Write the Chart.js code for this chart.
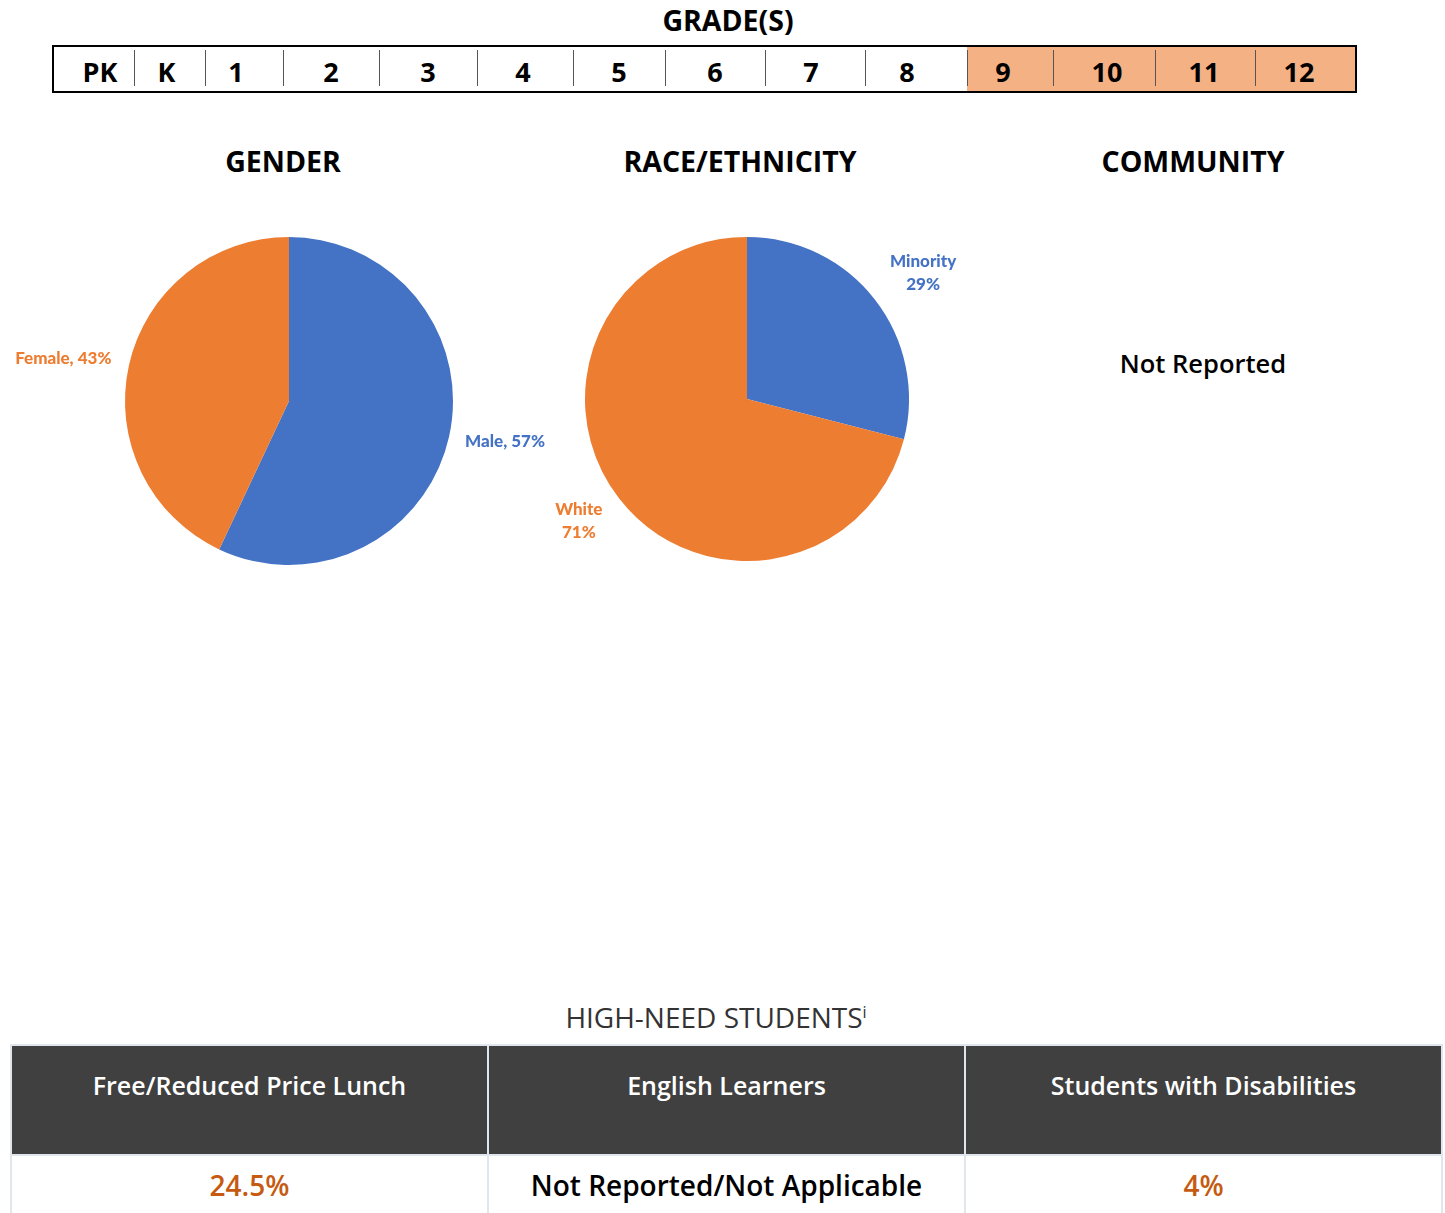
<!DOCTYPE html>
<html lang="en">
<head>
<meta charset="UTF-8">
<title>School Profile</title>
<script src="https://cdn.jsdelivr.net/npm/chart.js"></script>
<style>
    body {
        margin: 0;
        width: 1445px;
        height: 1213px;
        position: relative;
        overflow: hidden;
        background: #fff;
        font-family: "Open Sans", sans-serif;
        color: #000;
    }
    .abs { position: absolute; }
    .title {
        font-weight: 700;
        font-size: 28.5px;
        text-align: center;
    }
    #gradeBar {
        left: 52px; top: 45px; width: 1301px; height: 44px;
        border: 2px solid #000;
        display: flex;
    }
    #gradeBar div {
        position: relative;
        font-weight: 700;
        font-size: 27px;
        text-align: center;
        line-height: 49px;
        height: 44px;
        overflow: hidden;
        box-sizing: border-box;
    }
    #gradeBar div.sep::before {
        content: '';
        position: absolute;
        left: 0; top: 3px; height: 36px;
        border-left: 1.5px solid #555;
    }
    #gradeBar div.hl { background: #F4B183; }
    #needTable {
        left: 10px; top: 1044px;
        border-collapse: collapse;
        table-layout: fixed;
        width: 1433px;
    }
    #needTable td {
        border: 2px solid #e1e5ec;
        text-align: center;
        width: 33.3%;
        font-weight: 600;
    }
    #needTable tr.head td {
        background: #404040;
        color: #fff;
        font-size: 25px;
        height: 110px;
        vertical-align: top;
        padding-top: 22px;
        box-sizing: border-box;
    }
    #needTable tr.vals td {
        font-size: 28px;
        height: 70px;
        vertical-align: top;
        padding-top: 10px;
    }
</style>
</head>
<body>

<div class="abs title" style="left:528px; top:1px; width:400px;">GRADE(S)</div>
<div id="gradeBar" class="abs"></div>

<div class="abs title" style="left:83px; top:142px; width:400px;">GENDER</div>
<div class="abs title" style="left:540px; top:142px; width:400px;">RACE/ETHNICITY</div>
<div class="abs title" style="left:993px; top:142px; width:400px;">COMMUNITY</div>
<div class="abs" style="left:1003px; top:346px; width:400px; text-align:center; font-size:25.5px; font-weight:600;">Not Reported</div>

<canvas id="genderChart" class="abs" style="left:4px; top:221px;" width="570" height="360"></canvas>
<canvas id="raceChart" class="abs" style="left:477px; top:219px;" width="540" height="360"></canvas>

<div class="abs" style="left:416px; top:998px; width:600px; text-align:center; font-size:28px; color:#333;">HIGH-NEED STUDENTS<sup style="font-size:16px;">i</sup></div>
<table id="needTable" class="abs">
    <tr class="head"></tr>
    <tr class="vals"></tr>
</table>

<script>
// grade bar
var grades = ['PK', 'K', '1', '2', '3', '4', '5', '6', '7', '8', '9', '10', '11', '12'];
var gradeWidths = [80, 71, 78, 96, 98, 96, 92, 100, 100, 102, 86, 102, 100, 100];
var gradeNudge = [12, -6, -16, 0, 0, -4, 0, 0, -8, -18, -14, 6, -2, -12];
var servedGrades = ['9', '10', '11', '12'];

// pies
var genderLabels = ['Male', 'Female'];
var genderValues = [57, 43];
var raceLabels = ['Minority', 'White'];
var raceValues = [29, 71];
var pieColors = ['#4472C4', '#ED7D31'];

// high-need table
var needHeaders = ['Free/Reduced Price Lunch', 'English Learners', 'Students with Disabilities'];
var needValues = ['24.5%', 'Not Reported/Not Applicable', '4%'];
var needColors = ['#C55A11', '#000', '#C55A11'];

var bar = document.getElementById('gradeBar');
grades.forEach(function (g, i) {
    var d = document.createElement('div');
    d.textContent = g;
    d.style.width = gradeWidths[i] + 'px';
    // shift the number inside its cell like the original form
    if (gradeNudge[i] > 0) d.style.paddingLeft = gradeNudge[i] + 'px';
    else d.style.paddingRight = (-gradeNudge[i]) + 'px';
    if (i > 0) d.className = 'sep';
    if (servedGrades.indexOf(g) >= 0) d.className += ' hl';
    bar.appendChild(d);
});

var rows = document.querySelectorAll('#needTable tr');
needHeaders.forEach(function (h, i) {
    var td = document.createElement('td');
    td.textContent = h;
    rows[0].appendChild(td);
    var vd = document.createElement('td');
    vd.textContent = needValues[i];
    vd.style.color = needColors[i];
    rows[1].appendChild(vd);
});

// draw "Label, xx%" next to each slice
var sliceLabels = {
    id: 'sliceLabels',
    afterDatasetsDraw: function (chart, args, opts) {
        var ctx = chart.ctx;
        var meta = chart.getDatasetMeta(0);
        ctx.save();
        ctx.font = '900 17px Lato';
        ctx.textAlign = 'center';
        ctx.textBaseline = 'middle';
        meta.data.forEach(function (arc, i) {
            var mid = (arc.startAngle + arc.endAngle) / 2 + opts.turn;
            var r = arc.outerRadius * opts.dist[i];
            var x = arc.x + Math.cos(mid) * r;
            var y = arc.y + Math.sin(mid) * r;
            var label = chart.data.labels[i];
            var val = chart.data.datasets[0].data[i] + '%';
            ctx.fillStyle = pieColors[i];
            if (opts.twoLines) {
                ctx.fillText(label, x, y - 11);
                ctx.fillText(val, x, y + 12);
            } else {
                ctx.fillText(label + ', ' + val, x, y);
            }
        });
        ctx.restore();
    }
};

function makePie(id, labels, values, pad, dist, turn, twoLines) {
    return new Chart(document.getElementById(id).getContext('2d'), {
        type: 'pie',
        data: {
            labels: labels,
            datasets: [{
                data: values,
                backgroundColor: pieColors,
                borderWidth: 0
            }]
        },
        options: {
            responsive: false,
            animation: false,
            layout: { padding: pad },
            plugins: {
                legend: { display: false },
                tooltip: { enabled: false },
                sliceLabels: { dist: dist, turn: turn, twoLines: twoLines }
            }
        },
        plugins: [sliceLabels]
    });
}

makePie('genderChart', genderLabels, genderValues, 16, [1.34, 1.40], -0.035, false);
makePie('raceChart', raceLabels, raceValues, 18, [1.34, 1.28], 0.035, true);
</script>

</body>
</html>
